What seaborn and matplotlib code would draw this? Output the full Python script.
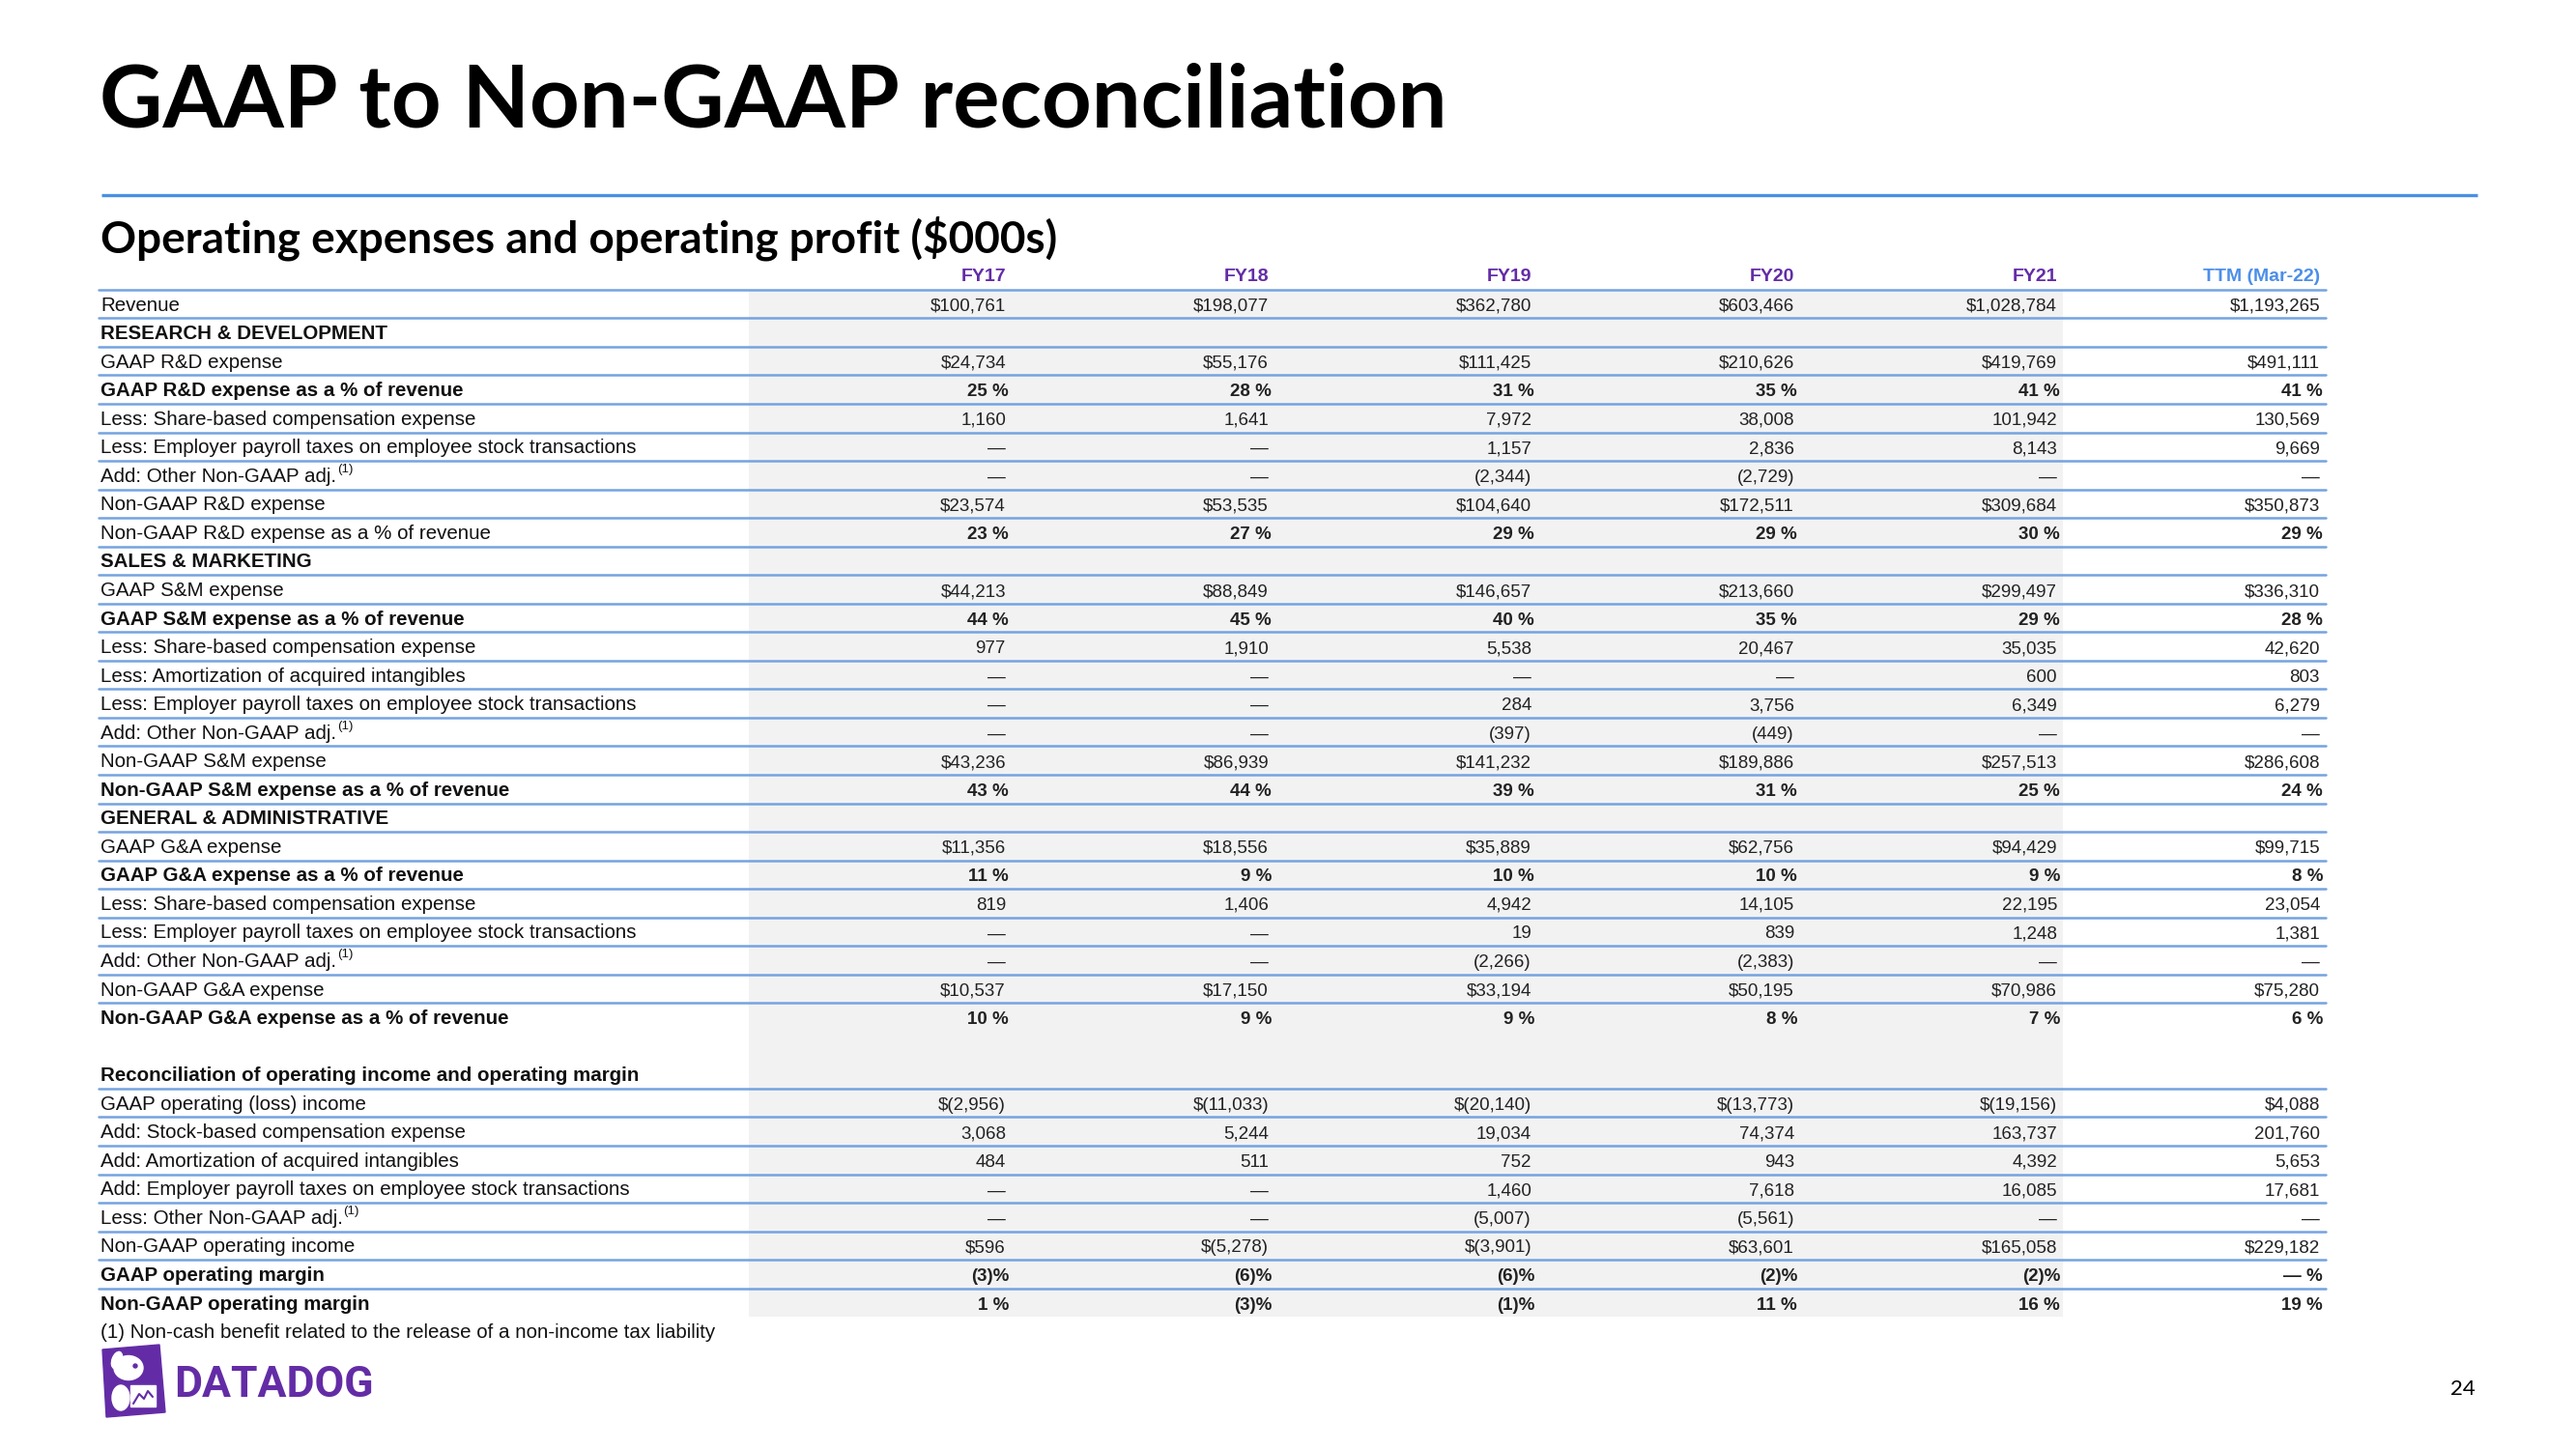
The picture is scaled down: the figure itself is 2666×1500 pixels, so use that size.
import numpy as np
import matplotlib
matplotlib.use("Agg")
import matplotlib.pyplot as plt
from matplotlib.colors import ListedColormap
from matplotlib.patches import Polygon, Ellipse, Rectangle
import seaborn as sns

# ---- table content ----
columns = ["FY17", "FY18", "FY19", "FY20", "FY21", "TTM (Mar-22)"]

row_labels = [
    "Revenue",
    "RESEARCH & DEVELOPMENT",
    "GAAP R&D expense",
    "GAAP R&D expense as a % of revenue",
    "Less: Share-based compensation expense",
    "Less: Employer payroll taxes on employee stock transactions",
    "Add: Other Non-GAAP adj.",
    "Non-GAAP R&D expense",
    "Non-GAAP R&D expense as a % of revenue",
    "SALES & MARKETING",
    "GAAP S&M expense",
    "GAAP S&M expense as a % of revenue",
    "Less: Share-based compensation expense",
    "Less: Amortization of acquired intangibles",
    "Less: Employer payroll taxes on employee stock transactions",
    "Add: Other Non-GAAP adj.",
    "Non-GAAP S&M expense",
    "Non-GAAP S&M expense as a % of revenue",
    "GENERAL & ADMINISTRATIVE",
    "GAAP G&A expense",
    "GAAP G&A expense as a % of revenue",
    "Less: Share-based compensation expense",
    "Less: Employer payroll taxes on employee stock transactions",
    "Add: Other Non-GAAP adj.",
    "Non-GAAP G&A expense",
    "Non-GAAP G&A expense as a % of revenue",
    "",
    "Reconciliation of operating income and operating margin",
    "GAAP operating (loss) income",
    "Add: Stock-based compensation expense",
    "Add: Amortization of acquired intangibles",
    "Add: Employer payroll taxes on employee stock transactions",
    "Less: Other Non-GAAP adj.",
    "Non-GAAP operating income",
    "GAAP operating margin",
    "Non-GAAP operating margin",
]

bold_label_rows = [1, 3, 9, 11, 17, 18, 20, 25, 27, 34, 35]
bold_value_rows = [3, 8, 11, 17, 20, 25, 34, 35]
footnote_rows = [6, 15, 23, 32]
no_line_rows = [25, 26, 35]

D = "\u2014"
fy17 = ["$100,761", "", "$24,734", "25 %", "1,160", D, D, "$23,574", "23 %",
        "", "$44,213", "44 %", "977", D, D, D, "$43,236", "43 %",
        "", "$11,356", "11 %", "819", D, D, "$10,537", "10 %",
        "", "", "$(2,956)", "3,068", "484", D, D, "$596", "(3)%", "1 %"]
fy18 = ["$198,077", "", "$55,176", "28 %", "1,641", D, D, "$53,535", "27 %",
        "", "$88,849", "45 %", "1,910", D, D, D, "$86,939", "44 %",
        "", "$18,556", "9 %", "1,406", D, D, "$17,150", "9 %",
        "", "", "$(11,033)", "5,244", "511", D, D, "$(5,278)", "(6)%", "(3)%"]
fy19 = ["$362,780", "", "$111,425", "31 %", "7,972", "1,157", "(2,344)", "$104,640", "29 %",
        "", "$146,657", "40 %", "5,538", D, "284", "(397)", "$141,232", "39 %",
        "", "$35,889", "10 %", "4,942", "19", "(2,266)", "$33,194", "9 %",
        "", "", "$(20,140)", "19,034", "752", "1,460", "(5,007)", "$(3,901)", "(6)%", "(1)%"]
fy20 = ["$603,466", "", "$210,626", "35 %", "38,008", "2,836", "(2,729)", "$172,511", "29 %",
        "", "$213,660", "35 %", "20,467", D, "3,756", "(449)", "$189,886", "31 %",
        "", "$62,756", "10 %", "14,105", "839", "(2,383)", "$50,195", "8 %",
        "", "", "$(13,773)", "74,374", "943", "7,618", "(5,561)", "$63,601", "(2)%", "11 %"]
fy21 = ["$1,028,784", "", "$419,769", "41 %", "101,942", "8,143", D, "$309,684", "30 %",
        "", "$299,497", "29 %", "35,035", "600", "6,349", D, "$257,513", "25 %",
        "", "$94,429", "9 %", "22,195", "1,248", D, "$70,986", "7 %",
        "", "", "$(19,156)", "163,737", "4,392", "16,085", D, "$165,058", "(2)%", "16 %"]
ttm = ["$1,193,265", "", "$491,111", "41 %", "130,569", "9,669", D, "$350,873", "29 %",
       "", "$336,310", "28 %", "42,620", "803", "6,279", D, "$286,608", "24 %",
       "", "$99,715", "8 %", "23,054", "1,381", D, "$75,280", "6 %",
       "", "", "$4,088", "201,760", "5,653", "17,681", D, "$229,182", D + " %", "19 %"]

# FY columns are shaded, the TTM column is not
shaded = [1, 1, 1, 1, 1, 0]

# ---- layout (pixels) ----
W, H = 2666, 1500
X_LEFT = 104
COL0, COL_W = 1041, 272
ROW0, PITCH = 314.6, 29.54
LINE_BLUE = "#74a3e0"
PURPLE = "#632ca6"

sns.set_theme(style="white")
plt.rcParams["font.family"] = ["Liberation Sans", "DejaVu Sans"]

fig = plt.figure(figsize=(W / 100, H / 100), dpi=100)

n_rows = len(row_labels)
top = ROW0 - PITCH / 2
bottom = top + n_rows * PITCH
col_right = [COL0 + j * COL_W for j in range(len(columns))]
cell_left = col_right[0] + 6 - COL_W
cell_right = col_right[-1] + 6

# shaded cell block drawn as a heatmap
ax_bg = fig.add_axes([cell_left / W, 1 - bottom / H,
                      (cell_right - cell_left) / W, (bottom - top) / H])
shade = np.tile(np.array(shaded), (n_rows, 1))
sns.heatmap(shade, cmap=ListedColormap(["#ffffff", "#f2f2f2"]), vmin=0, vmax=1,
            cbar=False, xticklabels=False, yticklabels=False, ax=ax_bg)
ax_bg.set_axis_off()

ax = fig.add_axes([0, 0, 1, 1])
ax.patch.set_alpha(0)
ax.set_xlim(0, W)
ax.set_ylim(H, 0)
ax.set_axis_off()

# title block
ax.text(103, 132, "GAAP to Non-GAAP reconciliation", family="Lato", weight="bold",
        fontsize=65, color="black", va="baseline")
ax.plot([105, 2564], [202, 202], color="#4a90e2", lw=2.4, solid_capstyle="butt")
ax.text(104, 261, "Operating expenses and operating profit ($000s)", family="Lato",
        weight="bold", fontsize=33, color="black", va="baseline")

# column headers
for j, col in enumerate(columns):
    ax.text(col_right[j], 291, col, ha="right", va="baseline", fontsize=14,
            weight="bold", color=PURPLE if j < 5 else "#4d8fe8")

# separators
ax.plot([102, cell_right], [top, top], color=LINE_BLUE, lw=1.8)
for i in range(n_rows):
    if i in no_line_rows:
        continue
    yl = top + (i + 1) * PITCH
    ax.plot([102, cell_right], [yl, yl], color=LINE_BLUE, lw=1.8)

# rows
table = [fy17, fy18, fy19, fy20, fy21, ttm]
for i, label in enumerate(row_labels):
    yb = ROW0 + i * PITCH + 7
    t = ax.text(X_LEFT, yb, label, va="baseline", fontsize=14.8, color="#111111",
                weight="bold" if i in bold_label_rows else "normal")
    if i in footnote_rows:
        ax.annotate("(1)", xy=(1, 1), xycoords=t, xytext=(0.5, 3), textcoords="offset points",
                    fontsize=9.5, va="top", color="#111111")
    for j, vals in enumerate(table):
        v = vals[i]
        if not v:
            continue
        ax.text(col_right[j] + (3 if "%" in v else 0), yb, v, ha="right", va="baseline",
                fontsize=13.5, color="#222222",
                weight="bold" if i in bold_value_rows else "normal")

ax.text(X_LEFT, 1385, "(1) Non-cash benefit related to the release of a non-income tax liability",
        va="baseline", fontsize=14.8, color="#111111")

# Datadog logo
ax.add_patch(Polygon([(106, 1397), (165, 1392), (171, 1462), (110, 1467)],
                     closed=True, color=PURPLE, zorder=3))
ax.add_patch(Ellipse((133, 1416), 30, 25, color="white", zorder=4))
ax.add_patch(Ellipse((121, 1408), 10, 18, angle=20, color="white", zorder=4))
ax.add_patch(Ellipse((140, 1414), 4, 4, color=PURPLE, zorder=5))
ax.add_patch(Ellipse((125, 1447), 18, 26, color="white", zorder=4))
ax.add_patch(Rectangle((135, 1434), 26, 22, color="white", zorder=5))
ax.plot([138, 144, 149, 153, 158], [1453, 1443, 1448, 1440, 1446], color=PURPLE, lw=1.5, zorder=6)
ax.text(180, 1446, "DATADOG", family="Roboto", weight="bold", fontsize=32,
        color=PURPLE, va="baseline")

ax.text(2562, 1444, "24", family="Lato", fontsize=16, color="black", ha="right", va="baseline")

fig.savefig("out.png", dpi=100)
